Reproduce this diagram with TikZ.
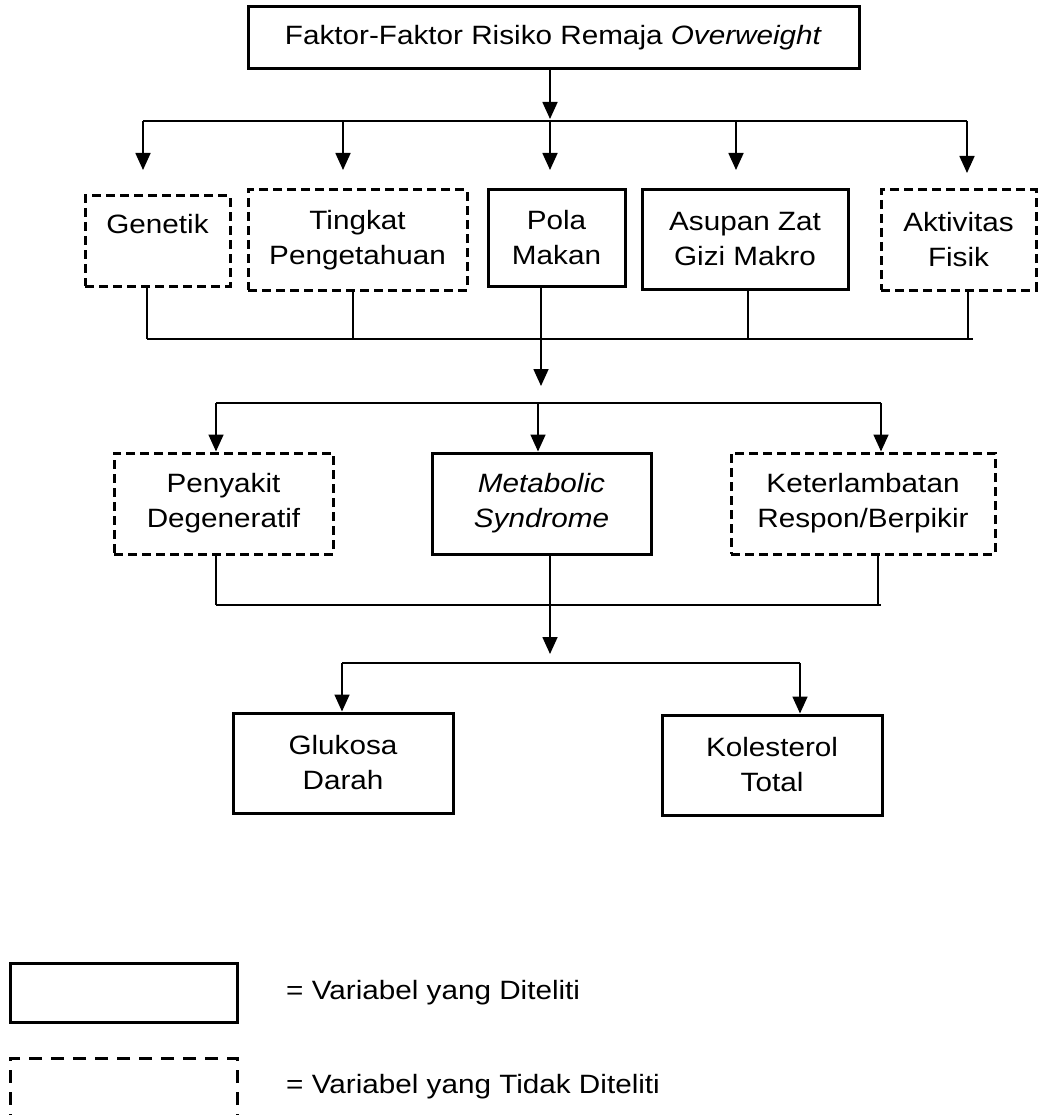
\documentclass[tikz,border=0pt]{standalone}
\usepackage{fontspec}
\setmainfont[FakeStretch=1.12]{Liberation Sans}
\usetikzlibrary{arrows.meta}
\begin{document}
\begin{tikzpicture}[x=1pt,y=-1pt,
  lbl/.style={font=\fontsize{26.5}{35}\selectfont, align=center, inner sep=0pt},
  solidbox/.style={lbl, draw, line width=3pt},
  dashbox/.style={lbl, draw, line width=3pt, dash pattern=on 9pt off 5pt},
  legdash/.style={lbl, draw, line width=3pt, dash pattern=on 13pt off 9pt},
  conn/.style={line width=1.7pt},
  arr/.style={conn, -{Triangle[width=15pt,length=17pt]}}]
\useasboundingbox (0,0) rectangle (1041,1115);
\fill[white] (0,0) rectangle (1041,1115);

% nodes
\node[solidbox, minimum width=611pt, minimum height=62pt] (top) at (553.5,38) {Faktor-Faktor Risiko Remaja \textit{Overweight}};

\node[dashbox, minimum width=145pt, minimum height=90pt] (gen) at (157.5,241) {Genetik\\\mbox{}};
\node[dashbox, minimum width=219pt, minimum height=100pt] (ting) at (357.5,240) {Tingkat\\Pengetahuan};
\node[solidbox, minimum width=137pt, minimum height=96pt] (pola) at (556.5,238) {Pola\\Makan};
\node[solidbox, minimum width=206pt, minimum height=99pt] (asup) at (745,239.5) {Asupan Zat\\Gizi Makro};
\node[dashbox, minimum width=155pt, minimum height=100pt] (akt) at (958.5,240) {Aktivitas\\Fisik};

\node[dashbox, minimum width=219pt, minimum height=101pt] (peny) at (223.5,503.5) {Penyakit\\Degeneratif};
\node[solidbox, minimum width=219pt, minimum height=101pt] (meta) at (541.5,503.5) {\textit{Metabolic}\\\textit{Syndrome}};
\node[dashbox, minimum width=264pt, minimum height=101pt] (ket) at (863,503.5) {Keterlambatan\\Respon/Berpikir};

\node[solidbox, minimum width=220pt, minimum height=100pt] (glu) at (343,763) {Glukosa\\Darah};
\node[solidbox, minimum width=220pt, minimum height=100pt] (kol) at (772,765) {Kolesterol\\Total};

% legend
\node[solidbox, minimum width=227pt, minimum height=59pt] (legs) at (123.5,992.5) {};
\node[legdash, minimum width=227pt, minimum height=62pt] (legd) at (123.5,1089) {};
\node[lbl, anchor=west] (legst) at (286,993) {= Variabel yang Diteliti};
\node[lbl, anchor=west] (legdt) at (286,1087) {= Variabel yang Tidak Diteliti};

% level 1 -> bus
\coordinate (a1) at (550,119);
\coordinate (bl1) at (143,121);
\coordinate (br1) at (967,121);
\draw[arr] (top.south -| a1) -- (a1);
\draw[conn] (bl1) -- (br1);
\coordinate (t1) at (143,170);
\coordinate (t2) at (343,170);
\coordinate (t3) at (550,170);
\coordinate (t4) at (736,170);
\coordinate (t5) at (967,173);
\foreach \t in {t1,t2,t3,t4,t5} \draw[arr] (\t |- bl1) -- (\t);

% row 2 -> bus 2
\coordinate (u1) at (147,339);
\coordinate (u2) at (353,339);
\coordinate (u3) at (541,339);
\coordinate (u4) at (748,339);
\coordinate (u5) at (968,339);
\coordinate (ur2) at (973,339);
\draw[conn] (gen.south -| u1) -- (u1);
\draw[conn] (ting.south -| u2) -- (u2);
\draw[conn] (pola.south -| u3) -- (u3);
\draw[conn] (asup.south -| u4) -- (u4);
\draw[conn] (akt.south -| u5) -- (u5);
\draw[conn] (u1) -- (ur2);
\coordinate (a2) at (541,386);
\draw[arr] (u3) -- (a2);

% bus 3 -> row 3
\coordinate (bl3) at (216,403);
\coordinate (bm3) at (538,403);
\coordinate (br3) at (881,403);
\draw[conn] (bl3) -- (br3);
\draw[arr] (bl3) -- (peny.north -| bl3);
\draw[arr] (bm3) -- (meta.north -| bm3);
\draw[arr] (br3) -- (ket.north -| br3);

% row 3 -> bus 4
\coordinate (d1) at (216,605);
\coordinate (d2) at (550,605);
\coordinate (d3) at (878,605);
\coordinate (dr) at (881,605);
\draw[conn] (peny.south -| d1) -- (d1);
\draw[conn] (meta.south -| d2) -- (d2);
\draw[conn] (ket.south -| d3) -- (d3);
\draw[conn] (d1) -- (dr);
\coordinate (a3) at (550,654);
\draw[arr] (d2) -- (a3);

% bus 5 -> row 4
\coordinate (bl5) at (342,663);
\coordinate (br5) at (800,663);
\draw[conn] (bl5) -- (br5);
\draw[arr] (bl5) -- (glu.north -| bl5);
\draw[arr] (br5) -- (kol.north -| br5);
\end{tikzpicture}
\end{document}
